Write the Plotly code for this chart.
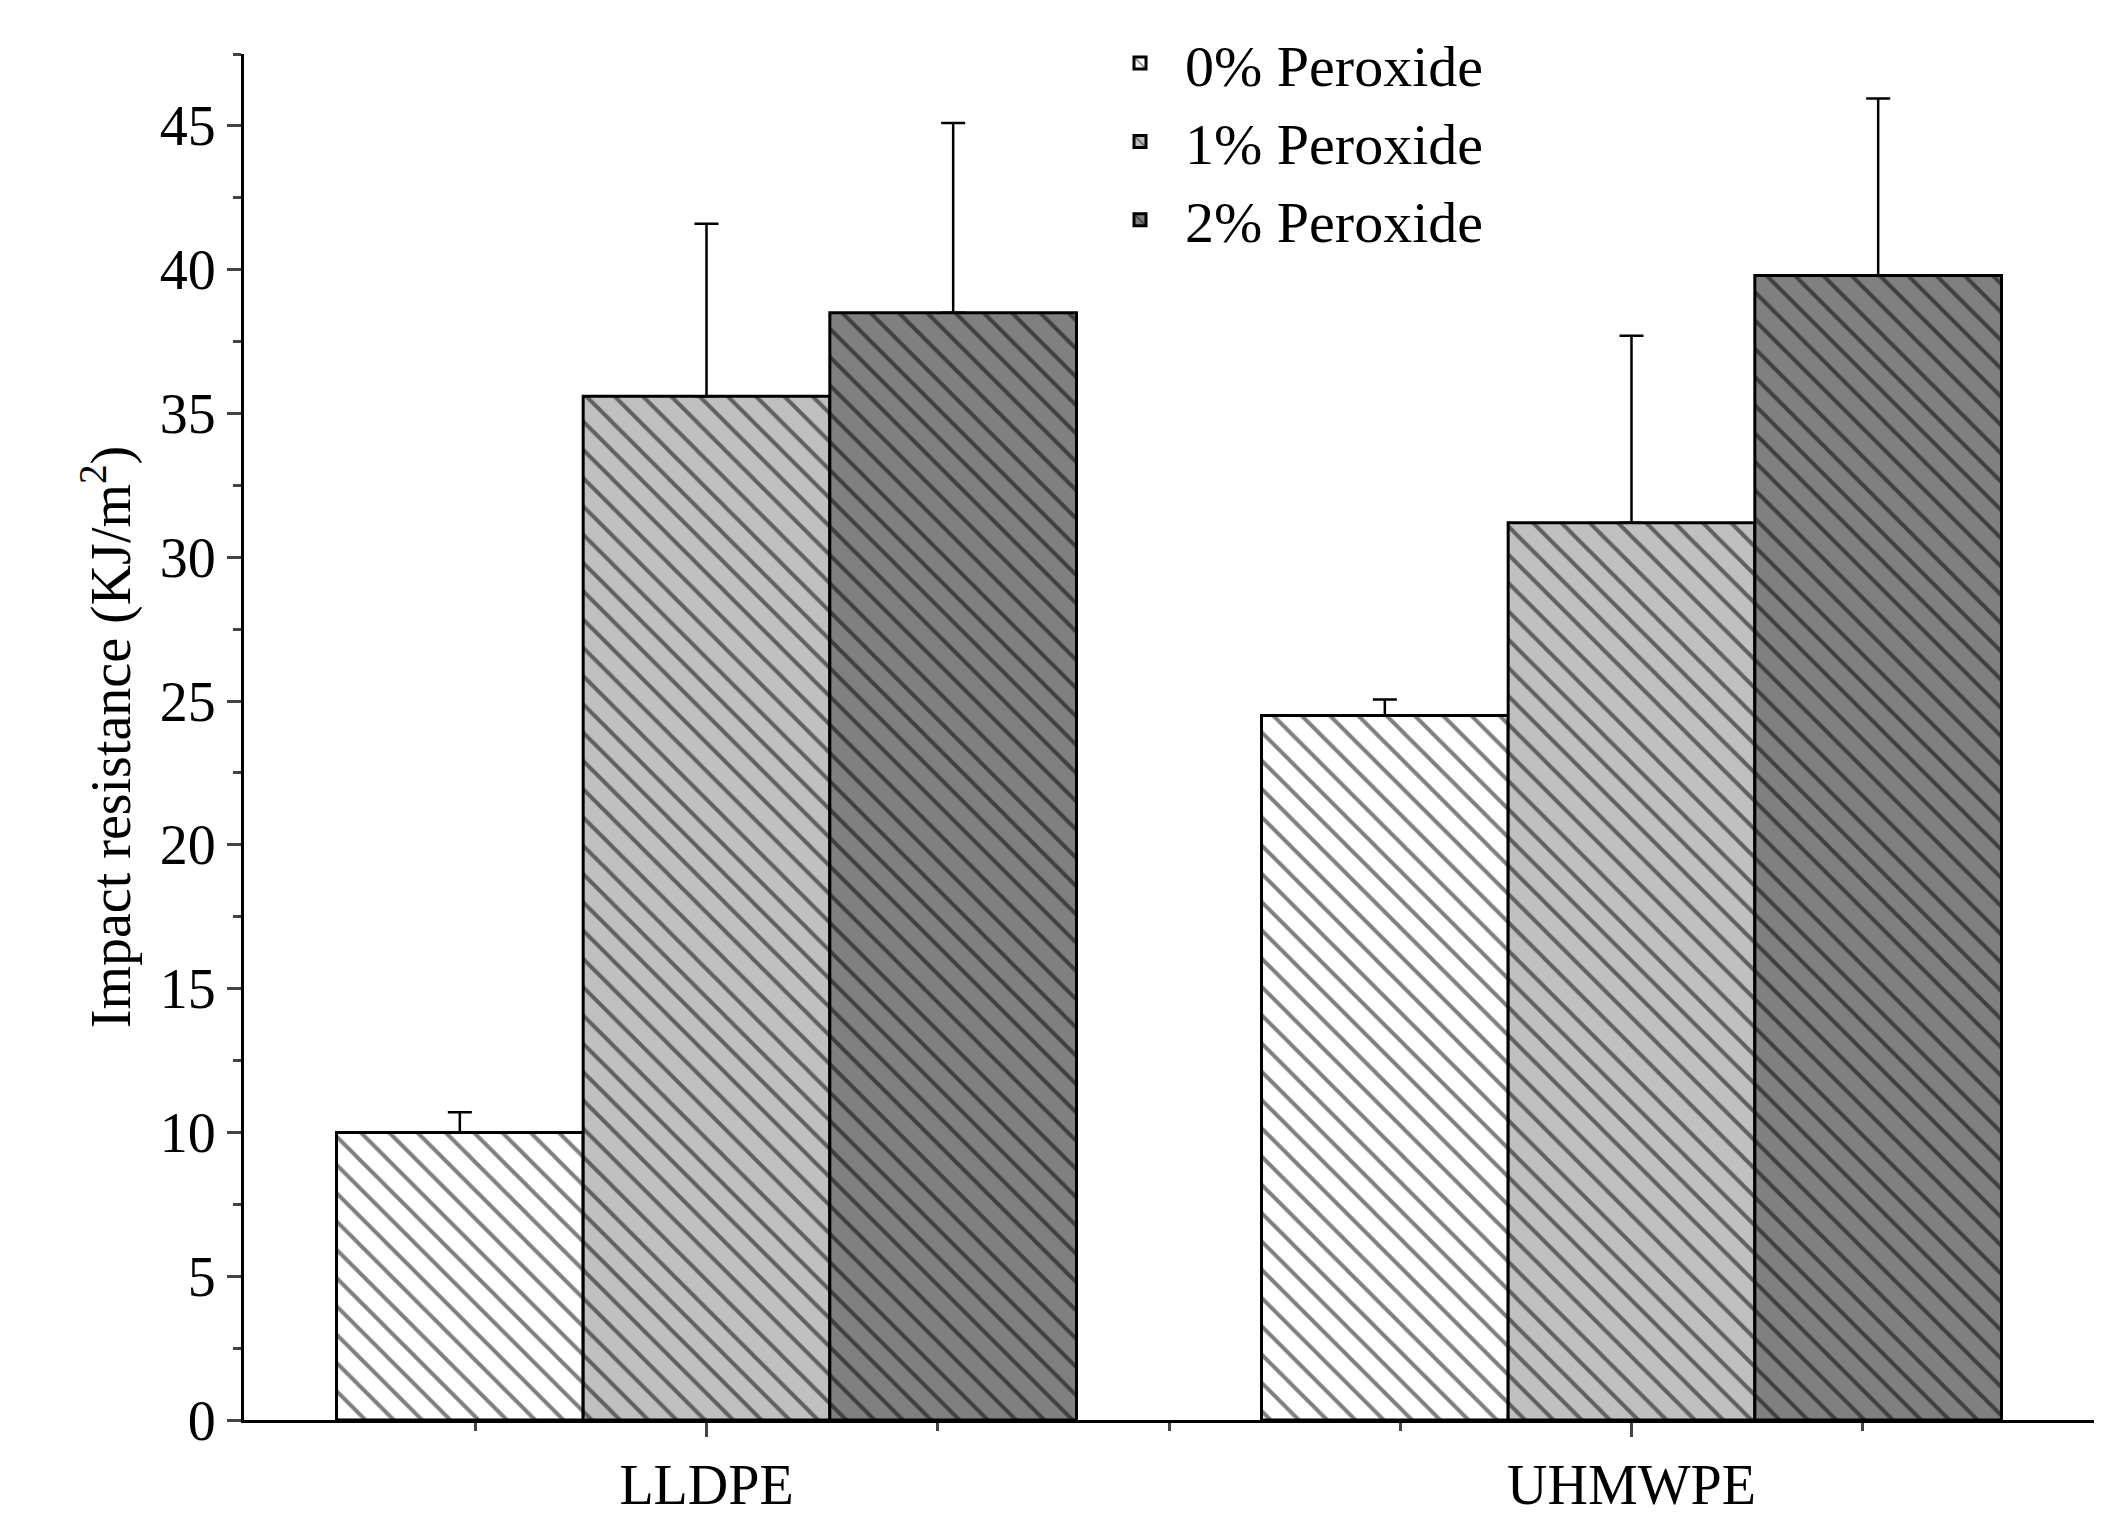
import plotly.graph_objects as go

categories = ["LLDPE", "UHMWPE"]
series = ["0% Peroxide", "1% Peroxide", "2% Peroxide"]
values = [[10.0, 24.5], [35.6, 31.2], [38.5, 39.8]]
errors = [[0.7, 0.55], [6.0, 6.5], [6.6, 6.15]]
colors = ["#ffffff", "#c0c0c0", "#808080"]

fig = go.Figure()
for s, v, e, c in zip(series, values, errors, colors):
    fig.add_bar(x=[1, 2], y=v, name=s,
                marker=dict(color=c, line=dict(color="black", width=3),
                            pattern=dict(shape="\\", fgcolor="black", bgcolor=c, size=20, solidity=0.2)),
                error_y=dict(type="data", symmetric=False, array=e, arrayminus=[0, 0],
                             color="black", thickness=2.5, width=12))

font = dict(family="Liberation Serif, DejaVu Serif, serif", size=56, color="black")
fig.update_layout(
    width=2106, height=1530, barmode="group", bargap=0.2, bargroupgap=0,
    plot_bgcolor="white", paper_bgcolor="white", font=font,
    margin=dict(l=236, r=20, t=45, b=118),
    legend=dict(x=0.46, y=1.025, yanchor="top", xanchor="left", bgcolor="rgba(0,0,0,0)",
                font=dict(size=58), itemwidth=80, tracegroupgap=10),
    xaxis=dict(range=[0.5, 2.5], tickvals=[1, 2], ticktext=categories, showline=True,
               linecolor="black", linewidth=3, ticks="outside", ticklen=14, tickwidth=3,
               showgrid=False, zeroline=False,
               minor=dict(tickvals=[0.75, 1.25, 1.5, 1.75, 2.25], ticks="outside", ticklen=8, tickwidth=3)),
    yaxis=dict(range=[0, 47.5], dtick=5, showline=True, linecolor="black", linewidth=3,
               ticks="outside", ticklen=14, tickwidth=3, showgrid=False, zeroline=False,
               title=dict(text="Impact resistance (KJ/m<sup>2</sup>)", font=dict(size=56), standoff=12),
               minor=dict(dtick=2.5, ticks="outside", ticklen=8, tickwidth=3)),
)
fig.write_html("out.html")
